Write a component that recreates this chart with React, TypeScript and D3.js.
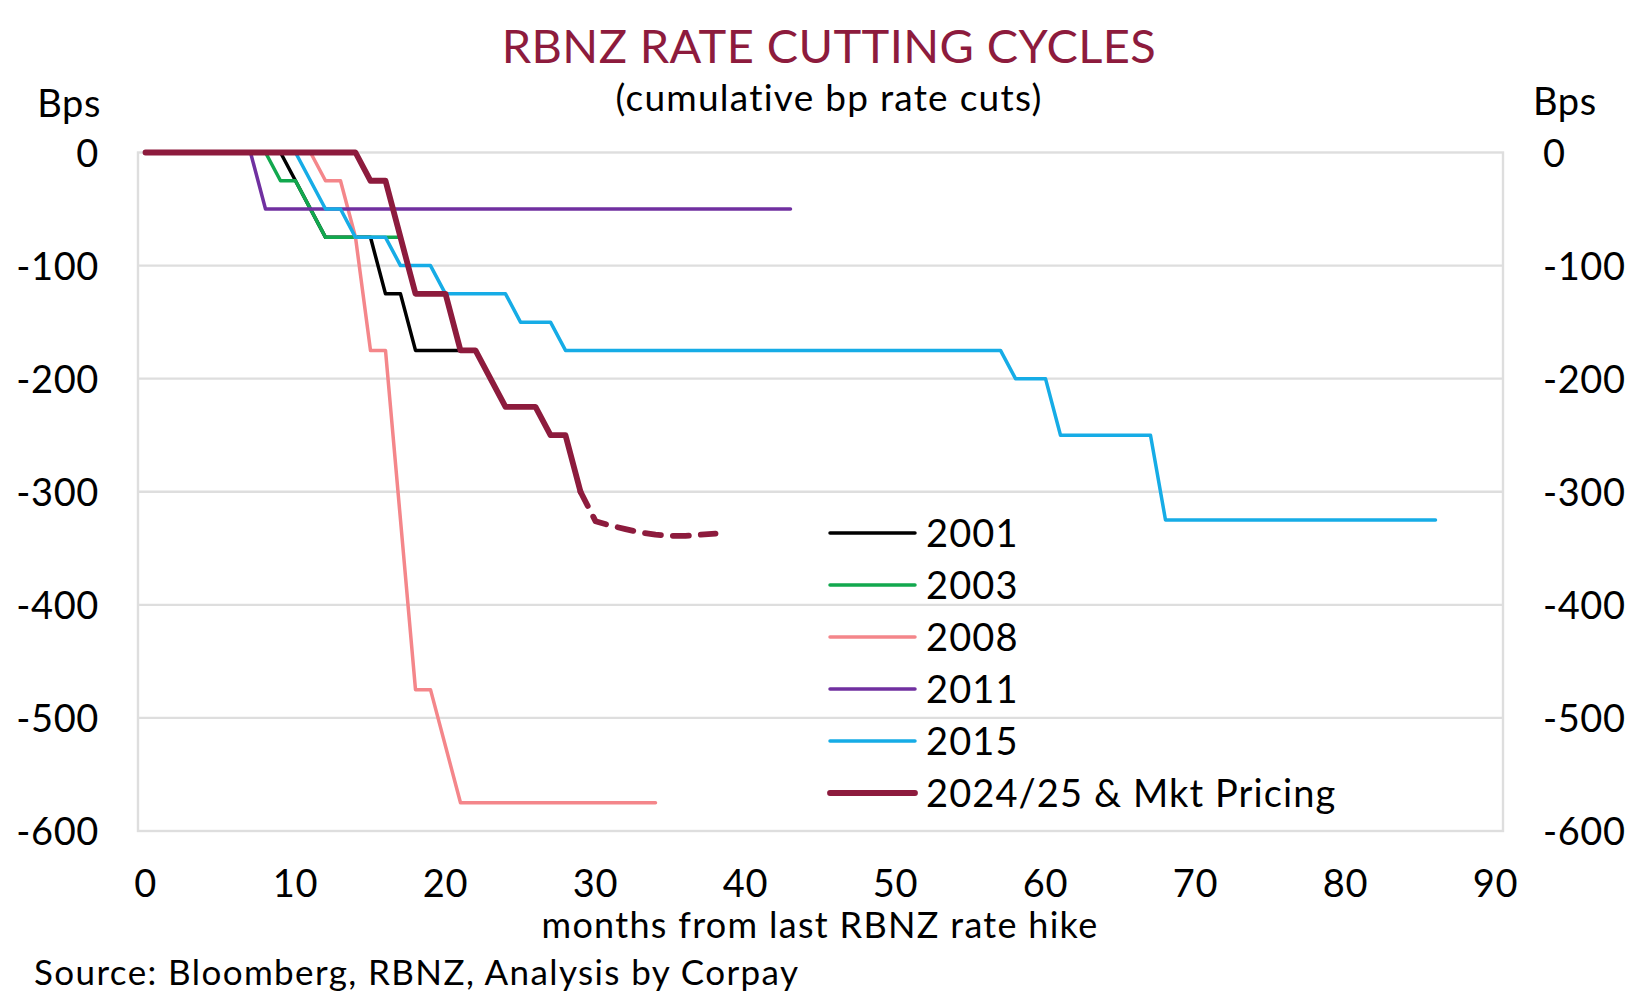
import * as d3 from 'd3';

// months from last hike (corner points) and cumulative bp cuts
const months2001 = [0, 9, 10, 12, 15, 16, 17, 18, 21];
const cuts2001 = [0, 0, -25, -75, -75, -125, -125, -175, -175];

const months2003 = [0, 8, 9, 10, 12, 17];
const cuts2003 = [0, 0, -25, -25, -75, -75];

const months2008 = [0, 11, 12, 13, 14, 15, 16, 18, 19, 21, 34];
const cuts2008 = [0, 0, -25, -25, -75, -175, -175, -475, -475, -575, -575];

const months2011 = [0, 7, 8, 43];
const cuts2011 = [0, 0, -50, -50];

const months2015 = [0, 10, 12, 13, 14, 16, 17, 19, 20, 24, 25, 27, 28, 57, 58, 60, 61, 67, 68, 86];
const cuts2015 = [0, 0, -50, -50, -75, -75, -100, -100, -125, -125, -150, -150, -175, -175, -200, -200, -250, -250, -325, -325];

const months2024 = [0, 14, 15, 16, 18, 20, 21, 22, 24, 26, 27, 28, 29];
const cuts2024 = [0, 0, -25, -25, -125, -125, -175, -175, -225, -225, -250, -250, -300];

// market pricing (dashed)
const monthsPricing = [29, 30, 31, 32, 33, 34, 35, 36, 37, 38];
const cutsPricing = [-300, -326, -330, -333, -336, -338, -339, -339, -338, -337];

const yTicks = [0, -100, -200, -300, -400, -500, -600];
const xTicks = [0, 10, 20, 30, 40, 50, 60, 70, 80, 90];

const seriesNames = ['2001', '2003', '2008', '2011', '2015', '2024/25 & Mkt Pricing'];
const seriesColors = ['#000000', '#12A84E', '#F4868A', '#7030A0', '#16ACE6', '#8D1B3D'];

const FONT = "Lato, 'Noto Sans', sans-serif";

export default function App() {
  const W = 1633;
  const H = 1000;
  const left = 138;
  const right = 1503;
  const top = 152.5;
  const bottom = 831;

  const x = d3.scaleLinear().domain([-0.5, 90.5]).range([left, right]);
  const y = d3.scaleLinear().domain([-600, 0]).range([bottom, top]);

  const line = d3
    .line<[number, number]>()
    .x(d => x(d[0]))
    .y(d => y(d[1]));

  const zip = (m: number[], v: number[]) => m.map((mm, i) => [mm, v[i]] as [number, number]);

  const series = [
    { data: zip(months2001, cuts2001), color: seriesColors[0], width: 3.5 },
    { data: zip(months2003, cuts2003), color: seriesColors[1], width: 3.5 },
    { data: zip(months2008, cuts2008), color: seriesColors[2], width: 3.5 },
    { data: zip(months2011, cuts2011), color: seriesColors[3], width: 3.5 },
    { data: zip(months2015, cuts2015), color: seriesColors[4], width: 3.5 },
    { data: zip(months2024, cuts2024), color: seriesColors[5], width: 5.8 },
  ];

  const legendX = 830;
  const legendY0 = 533;
  const legendStep = 52;

  return (
    <svg
      width={W}
      height={H}
      style={{ position: 'absolute', left: 0, top: 0, background: '#fff', fontVariantLigatures: 'none' }}
      fontFamily={FONT}
    >
      <rect x={0} y={0} width={W} height={H} fill="#fff" />

      {/* titles */}
      <text x={829} y={63} textAnchor="middle" fontSize={47} letterSpacing={0.4} fill="#8D1B3D">
        RBNZ RATE CUTTING CYCLES
      </text>
      <text x={829} y={111} textAnchor="middle" fontSize={37} letterSpacing={1.25} fill="#000">
        (cumulative bp rate cuts)
      </text>

      {/* gridlines */}
      {yTicks.slice(1, -1).map(t => (
        <line key={t} x1={left} x2={right} y1={y(t)} y2={y(t)} stroke="#DEDEDE" strokeWidth={2.4} />
      ))}
      <rect x={left} y={top} width={right - left} height={bottom - top} fill="none" stroke="#DEDEDE" strokeWidth={2.4} />

      {/* y labels */}
      <text x={101} y={117} textAnchor="end" fontSize={38} letterSpacing={0.6}>Bps</text>
      <text x={1533} y={115} textAnchor="start" fontSize={38} letterSpacing={0.6}>Bps</text>
      {yTicks.map(t => (
        <g key={t}>
          <text x={99} y={y(t) + 14} textAnchor="end" fontSize={38} letterSpacing={0.6}>{t}</text>
          <text x={1543} y={y(t) + 14} textAnchor="start" fontSize={38} letterSpacing={0.6}>{t}</text>
        </g>
      ))}

      {/* x labels */}
      {xTicks.map(t => (
        <text key={t} x={x(t)} y={897} textAnchor="middle" fontSize={38} letterSpacing={0.6}>{t}</text>
      ))}
      <text x={820} y={938} textAnchor="middle" fontSize={36} letterSpacing={1.3}>months from last RBNZ rate hike</text>
      <text x={34} y={985} textAnchor="start" fontSize={35} letterSpacing={1.4}>Source: Bloomberg, RBNZ, Analysis by Corpay</text>

      {/* series */}
      {series.map((s, i) => (
        <path
          key={i}
          d={line(s.data) || ''}
          fill="none"
          stroke={s.color}
          strokeWidth={s.width}
          strokeLinejoin="round"
          strokeLinecap="round"
        />
      ))}
      <path
        d={line(zip(monthsPricing, cutsPricing)) || ''}
        fill="none"
        stroke={seriesColors[5]}
        strokeWidth={5.8}
        strokeDasharray="16 12"
        strokeLinecap="round"
        strokeLinejoin="round"
      />

      {/* legend */}
      {seriesNames.map((n, i) => (
        <g key={n}>
          <line
            x1={legendX}
            x2={legendX + 85}
            y1={legendY0 + i * legendStep}
            y2={legendY0 + i * legendStep}
            stroke={seriesColors[i]}
            strokeWidth={i === 5 ? 5.8 : 3.5}
            strokeLinecap="round"
          />
          <text x={legendX + 96} y={legendY0 + i * legendStep + 14} fontSize={38} letterSpacing={1.1}>{n}</text>
        </g>
      ))}
    </svg>
  );
}
